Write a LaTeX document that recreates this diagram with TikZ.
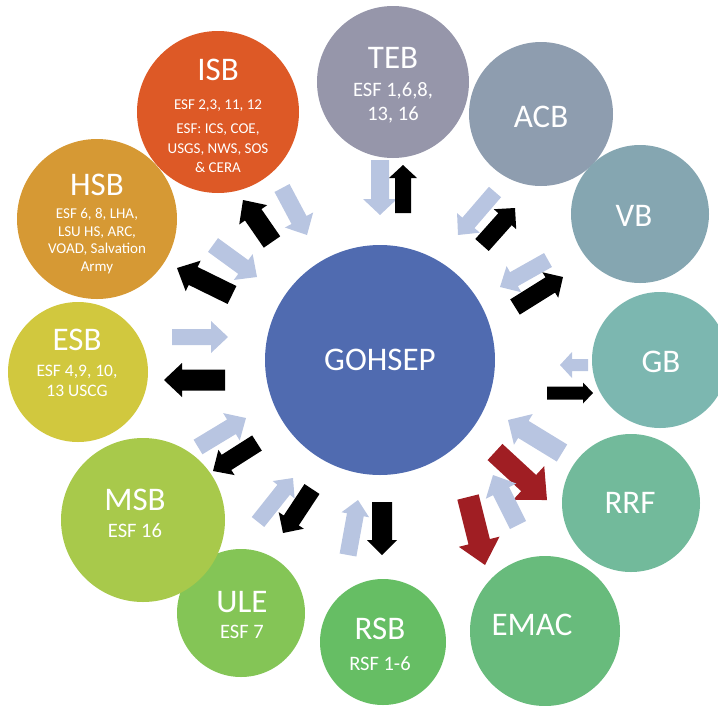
\documentclass[tikz,border=0pt]{standalone}
\usepackage{fontspec}
\setmainfont{Carlito}
\usetikzlibrary{calc}
\definecolor{cGOH}{HTML}{506BB0}
\definecolor{cTEB}{HTML}{9696AA}
\definecolor{cACB}{HTML}{8E9DAF}
\definecolor{cVB}{HTML}{85A6B1}
\definecolor{cGB}{HTML}{7CB7B0}
\definecolor{cRRF}{HTML}{72BA9B}
\definecolor{cEMAC}{HTML}{68BB7C}
\definecolor{cRSB}{HTML}{66BE64}
\definecolor{cULE}{HTML}{84C556}
\definecolor{cMSB}{HTML}{A8C94B}
\definecolor{cESB}{HTML}{D1C83E}
\definecolor{cHSB}{HTML}{D69934}
\definecolor{cISB}{HTML}{DD5926}
\definecolor{cLight}{HTML}{B8C5E1}
\definecolor{cRed}{HTML}{A01E23}
% #1 colour, #2 tail, #3 tip, #4 half shaft, #5 half head, #6 head length
\newcommand{\blockarrow}[6]{%
  \coordinate (ba-h) at ($(#3)!#6!(#2)$);
  \fill[#1] ($(#2)!#4!90:(#3)$) -- ($(ba-h)!#4!90:(#3)$) -- ($(ba-h)!#5!90:(#3)$) -- (#3)
    -- ($(ba-h)!#5!-90:(#3)$) -- ($(ba-h)!#4!-90:(#3)$) -- ($(#2)!#4!-90:(#3)$) -- cycle;
}
\tikzset{
  bub/.style={circle, inner sep=0pt, draw=none},
  ttl/.style={text=white, inner sep=0pt, font=\fontsize{33}{36}\selectfont},
  sub/.style={text=white, inner sep=0pt, align=center, font=\fontsize{20.5}{23.5}\selectfont},
}
\begin{document}
\begin{tikzpicture}[x=1pt, y=-1pt]
\useasboundingbox (0,0) rectangle (718,705);
% circles
\node[bub, fill=cGOH, minimum size=230pt] (goh) at (380,360) {};
\node[bub, fill=cTEB, minimum size=152pt] (teb) at (393,82) {};
\node[bub, fill=cACB, minimum size=144pt] (acb) at (541,114) {};
\node[bub, fill=cVB, minimum size=138pt] (vb) at (640,214) {};
\node[bub, fill=cGB, minimum size=136pt] (gb) at (660,360) {};
\node[bub, fill=cRRF, minimum size=138pt] (rrf) at (631,503) {};
\node[bub, fill=cEMAC, minimum size=150pt] (emac) at (545,631) {};
\node[bub, fill=cRSB, minimum size=126pt] (rsb) at (383,642) {};
\node[bub, fill=cULE, minimum size=128pt] (ule) at (241,613) {};
\node[bub, fill=cMSB, minimum size=164pt] (msb) at (143,520) {};
\node[bub, fill=cESB, minimum size=140pt] (esb) at (78,372) {};
\node[bub, fill=cHSB, minimum size=160pt] (hsb) at (97,219) {};
\node[bub, fill=cISB, minimum size=162pt] (isb) at (218,112) {};
% texts
\node[ttl] (gohT) at (380,360) {GOHSEP};
\node[ttl] (tebT) at (393,58) {TEB};
\node[sub] (tebS) at (393,103) {ESF 1,6,8,\\13, 16};
\node[ttl] (acbT) at (541,117) {ACB};
\node[ttl] (vbT) at (634,216) {VB};
\node[ttl] (gbT) at (661,362) {GB};
\node[ttl] (rrfT) at (630,503) {RRF};
\node[ttl] (emacT) at (532,625) {EMAC};
\node[ttl] (rsbT) at (380,629) {RSB};
\node[sub] (rsbS) at (380,664) {RSF 1-6};
\node[ttl] (uleT) at (242,602) {ULE};
\node[sub] (uleS) at (242,632) {ESF 7};
\node[ttl] (msbT) at (135,500) {MSB};
\node[sub] (msbS) at (135,531) {ESF 16};
\node[ttl] (esbT) at (77,340) {ESB};
\node[sub, font=\fontsize{17.5}{20}\selectfont] (esbS) at (77,381) {ESF 4,9, 10,\\13 USCG};
\node[ttl] (hsbT) at (97,185) {HSB};
\node[sub, font=\fontsize{15}{17.5}\selectfont] (hsbS) at (97,241) {ESF 6, 8, LHA,\\LSU HS, ARC,\\VOAD, Salvation\\Army};
\node[ttl] (isbT) at (218,70) {ISB};
\node[sub, font=\fontsize{15}{19.5}\selectfont] (isbS) at (218,136) {ESF 2,3, 11, 12\\[5pt]ESF: ICS, COE,\\USGS, NWS, SOS\\\& CERA};
% arrow end points
\coordinate (tebLt) at (380,160); \coordinate (tebLh) at (380,215);
\coordinate (tebBt) at (403,213); \coordinate (tebBh) at (403,165);
\coordinate (acbLt) at (495,192); \coordinate (acbLh) at (458,235);
\coordinate (acbBt) at (482,245); \coordinate (acbBh) at (515,208);
\coordinate (vbLt) at (548,260); \coordinate (vbLh) at (500,287);
\coordinate (vbBt) at (515,307); \coordinate (vbBh) at (563,277);
\coordinate (gbLt) at (588,365); \coordinate (gbLh) at (560,365);
\coordinate (gbBt) at (547,393); \coordinate (gbBh) at (593,393);
\coordinate (rrfLt) at (562,453); \coordinate (rrfLh) at (508,420);
\coordinate (rrfRt) at (495,452); \coordinate (rrfRh) at (547,500);
\coordinate (emacLt) at (518,525); \coordinate (emacLh) at (493,475);
\coordinate (emacRt) at (468,497); \coordinate (emacRh) at (485,565);
\coordinate (rsbLt) at (348,555); \coordinate (rsbLh) at (358,500);
\coordinate (rsbBt) at (382,502); \coordinate (rsbBh) at (382,555);
\coordinate (uleLt) at (258,522); \coordinate (uleLh) at (293,478);
\coordinate (uleBt) at (312,489); \coordinate (uleBh) at (283,533);
\coordinate (msbLt) at (198,447); \coordinate (msbLh) at (246,418);
\coordinate (msbBt) at (257,443); \coordinate (msbBh) at (213,471);
\coordinate (esbLt) at (172,337); \coordinate (esbLh) at (228,337);
\coordinate (esbBt) at (225,380); \coordinate (esbBh) at (164,380);
\coordinate (hsbLt) at (213,245); \coordinate (hsbLh) at (257,277);
\coordinate (hsbBt) at (232,295); \coordinate (hsbBh) at (177,268);
\coordinate (isbLt) at (282,188); \coordinate (isbLh) at (307,235);
\coordinate (isbBt) at (272,242); \coordinate (isbBh) at (243,200);
% arrows
\blockarrow{cLight}{tebLt}{tebLh}{9pt}{17pt}{16pt}
\blockarrow{black}{tebBt}{tebBh}{8pt}{14pt}{13pt}
\blockarrow{cLight}{acbLt}{acbLh}{8pt}{15pt}{16pt}
\blockarrow{black}{acbBt}{acbBh}{9pt}{15pt}{15pt}
\blockarrow{cLight}{vbLt}{vbLh}{8pt}{15pt}{16pt}
\blockarrow{black}{vbBt}{vbBh}{9pt}{15pt}{15pt}
\blockarrow{cLight}{gbLt}{gbLh}{6pt}{13pt}{12pt}
\blockarrow{black}{gbBt}{gbBh}{6.5pt}{10.5pt}{10pt}
\blockarrow{cLight}{rrfLt}{rrfLh}{10pt}{18pt}{18pt}
\blockarrow{cRed}{rrfRt}{rrfRh}{11pt}{23pt}{25pt}
\blockarrow{cLight}{emacLt}{emacLh}{9pt}{17pt}{18pt}
\blockarrow{cRed}{emacRt}{emacRh}{11pt}{21pt}{24pt}
\blockarrow{cLight}{rsbLt}{rsbLh}{8.5pt}{14pt}{15pt}
\blockarrow{black}{rsbBt}{rsbBh}{10pt}{15pt}{15pt}
\blockarrow{cLight}{uleLt}{uleLh}{8pt}{14pt}{15pt}
\blockarrow{black}{uleBt}{uleBh}{9pt}{15pt}{15pt}
\blockarrow{cLight}{msbLt}{msbLh}{8.5pt}{16pt}{17pt}
\blockarrow{black}{msbBt}{msbBh}{9pt}{15pt}{16pt}
\blockarrow{cLight}{esbLt}{esbLh}{8pt}{16pt}{17pt}
\blockarrow{black}{esbBt}{esbBh}{10.5pt}{17pt}{18pt}
\blockarrow{cLight}{hsbLt}{hsbLh}{8.5pt}{16pt}{17pt}
\blockarrow{black}{hsbBt}{hsbBh}{10pt}{17pt}{18pt}
\blockarrow{cLight}{isbLt}{isbLh}{8.5pt}{16pt}{17pt}
\blockarrow{black}{isbBt}{isbBh}{10pt}{17pt}{18pt}
\end{tikzpicture}
\end{document}
